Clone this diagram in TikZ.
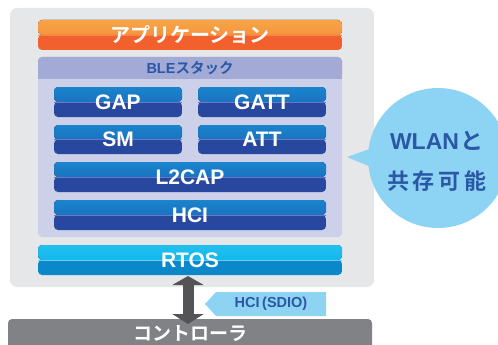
\documentclass[tikz,border=0pt]{standalone}
\usepackage{fontspec}
\setmainfont{Liberation Sans}
\newfontfamily\jp{Noto Sans CJK JP}[BoldFont={* Bold}]
\usetikzlibrary{arrows.meta,shapes.geometric}
\definecolor{panel}{HTML}{E6E7E8}
\definecolor{blepanel}{HTML}{CDD0E9}
\definecolor{blehead}{HTML}{A2AAD5}
\definecolor{txtblue}{HTML}{2A58A6}
\definecolor{orA}{HTML}{F8A447}
\definecolor{orB}{HTML}{F38634}
\definecolor{orC}{HTML}{F1602D}
\definecolor{orL}{HTML}{F7844A}
\definecolor{blA}{HTML}{1A84CC}
\definecolor{blB}{HTML}{1B62B4}
\definecolor{blC}{HTML}{27489E}
\definecolor{blL}{HTML}{6A78C8}
\definecolor{cyA}{HTML}{22C0F0}
\definecolor{cyB}{HTML}{04AEE6}
\definecolor{cyC}{HTML}{0A88C9}
\definecolor{cyL}{HTML}{70CCF0}
\definecolor{ctrl}{HTML}{808285}
\definecolor{arrowgray}{HTML}{545456}
\definecolor{tag}{HTML}{8FD3F3}
\definecolor{bubble}{HTML}{8DD4F4}
\tikzset{
  x=1pt,y=-1pt,
  banded/.style n args={4}{rounded corners=4pt, inner sep=0pt, text=white, font=\bfseries\fontsize{21}{21}\selectfont,
    path picture={
      \fill[top color=#1,bottom color=#2] (path picture bounding box.north west) rectangle (path picture bounding box.east);
      \fill[#3] (path picture bounding box.west) rectangle (path picture bounding box.south east);
      \draw[#4,line width=0.8pt] (path picture bounding box.west) -- (path picture bounding box.east);
    }},
  bluebox/.style={banded={blA}{blB}{blC}{blL}},
}
\begin{document}
\begin{tikzpicture}
\useasboundingbox (0,0) rectangle (498,345);
\clip (0,0) rectangle (498,345);
% outer panel
\fill[panel, rounded corners=7pt] (10,8) rectangle (374,287);
% application
\node[banded={orA}{orB}{orC}{orL}, minimum width=304pt, minimum height=30pt, font=\jp\bfseries\fontsize{20}{20}\selectfont] (app) at (190,35) {アプリケーション};
% BLE stack panel
\fill[blepanel, rounded corners=4pt] (38,57) rectangle (342,237);
\fill[blehead, rounded corners=4pt] (38,57) rectangle (342,79);
\fill[blehead] (38,70) rectangle (342,79);
\node[text=txtblue, font=\bfseries\fontsize{14.5}{14.5}\selectfont, inner sep=0pt] (ble) at (190,68) {BLE{\jp\bfseries スタック}};
% stack boxes
\node[bluebox, minimum width=128pt, minimum height=30pt] (gap) at (118,102) {GAP};
\node[bluebox, minimum width=128pt, minimum height=30pt] (gatt) at (262,102) {GATT};
\node[bluebox, minimum width=128pt, minimum height=29pt] (sm) at (118,139.5) {SM};
\node[bluebox, minimum width=128pt, minimum height=29pt] (att) at (262,139.5) {ATT};
\node[bluebox, minimum width=272pt, minimum height=30pt] (l2cap) at (190,177) {L2CAP};
\node[bluebox, minimum width=272pt, minimum height=30pt] (hci) at (190,215) {HCI};
% RTOS
\node[banded={cyA}{cyB}{cyC}{cyL}, minimum width=304pt, minimum height=30pt] (rtos) at (190,260) {RTOS};
% controller
\fill[ctrl, rounded corners=4pt] (8,319) rectangle (372,360);
\node[text=white, font=\jp\bfseries\fontsize{19}{19}\selectfont, inner sep=0pt] (ctrl) at (190,334) {コントローラ};
% double arrow
\coordinate (atop) at (188,276);
\coordinate (abot) at (188,324);
\draw[arrowgray, line width=11pt, {Triangle[length=9pt,width=31pt]}-{Triangle[length=10pt,width=31pt]}] (atop) -- (abot);
% HCI (SDIO) tag
\fill[tag] (205,304) -- (216,292) -- (326,292) -- (326,316) -- (216,316) -- cycle;
\node[text=txtblue, font=\bfseries\fontsize{14.5}{14.5}\selectfont, inner sep=0pt] (sdio) at (271,304) {HCI\hspace{2.5pt}(SDIO)};
% bubble
\fill[bubble] (438,158) circle (70);
\fill[bubble] (347,157) -- (378,146) -- (378,170) -- cycle;
\node[text=txtblue, font=\bfseries\fontsize{23}{23}\selectfont, inner sep=0pt] (w1) at (437,141) {WLAN\hspace{2pt}{\jp\bfseries と}};
\node[text=txtblue, font=\jp\bfseries\fontsize{22}{22}\selectfont, inner sep=0pt] (w2) at (437,181) {共\hspace{4pt}存\hspace{4pt}可\hspace{4pt}能};
\end{tikzpicture}
\end{document}
